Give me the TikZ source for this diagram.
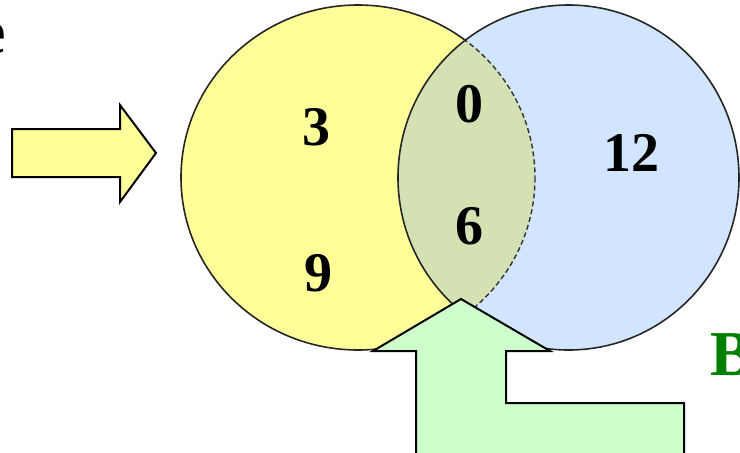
\documentclass[tikz,border=0pt]{standalone}
\usepackage{fontspec}
\setmainfont{Liberation Serif}
\definecolor{yel}{HTML}{FFFF99}
\definecolor{blu}{HTML}{D2E5FF}
\definecolor{lens}{HTML}{D3E1B3}
\definecolor{grn}{HTML}{CCFFCC}
\definecolor{dgreen}{HTML}{008000}
\tikzset{
  numlabel/.style={font=\fontsize{56}{60}\selectfont\bfseries, inner sep=0pt},
  biglabel/.style={font=\fontsize{64}{68}\selectfont\bfseries, inner sep=0pt},
  arrowshape/.style={draw=black, line width=2pt, line join=miter},
  ringline/.style={draw=black!85, line width=1.6pt}
}
\begin{document}
\begin{tikzpicture}[x=1pt,y=-1pt]
\useasboundingbox (0,0) rectangle (740,453);
\clip (0,0) rectangle (740,453);
% yellow set
\fill[yel] (358,177.5) ellipse [x radius=177, y radius=172.5];
\draw[ringline] (358,177.5) ellipse [x radius=177, y radius=172.5];
% blue set
\fill[blu] (568.5,177.5) ellipse [x radius=170.5, y radius=172.5];
\begin{scope}
  \clip (358,177.5) ellipse [x radius=177, y radius=172.5];
  \fill[lens] (568.5,177.5) ellipse [x radius=170.5, y radius=172.5];
\end{scope}
\begin{scope}
  \clip (568.5,177.5) ellipse [x radius=170.5, y radius=172.5];
  \draw[draw=black!80, line width=1.4pt, dash pattern=on 5pt off 3pt] (358,177.5) ellipse [x radius=177, y radius=172.5];
\end{scope}
\draw[ringline] (568.5,177.5) ellipse [x radius=170.5, y radius=172.5];
% numbers
\node[numlabel] (n3) at (316,127) {3};
\node[numlabel] (n9) at (318,273) {9};
\node[numlabel] (n0) at (469,104) {0};
\node[numlabel] (n6) at (469,226) {6};
\node[numlabel] (n12) at (631,153) {12};
% left arrow
\fill[yel, arrowshape] (12,129) -- (120,129) -- (120,105) -- (156,153) -- (120,202) -- (120,177) -- (12,177) -- cycle;
% bottom arrow
\fill[grn, arrowshape] (416,470) -- (416,351) -- (373,351) -- (461,299) -- (550,351) -- (506,351) -- (506,403) -- (684,403) -- (684,470) -- cycle;
% cut-off texts
\node[biglabel, anchor=base east] (te) at (6,53) {e};
\node[biglabel, text=dgreen, anchor=base west] (tb) at (710,375) {B};
\end{tikzpicture}
\end{document}
